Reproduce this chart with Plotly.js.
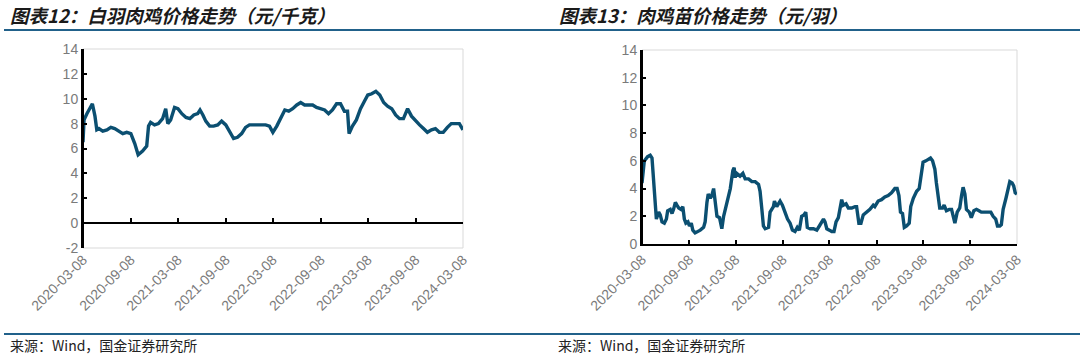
<!DOCTYPE html>
<html>
<head>
<meta charset="utf-8">
<script src="https://cdn.plot.ly/plotly-3.0.1.min.js"></script>
<style>
html,body{margin:0;padding:0;background:#fff;}
#chart{width:1086px;height:357px;}
</style>
</head>
<body>
<div id="chart"></div>
<script>
// ---- Data ----
const titleLeft = "图表12：白羽肉鸡价格走势（元/千克）";
const titleRight = "图表13：肉鸡苗价格走势（元/羽）";
const sourceText = "来源：Wind，国金证券研究所";

const tickDates = ["2020-03-08","2020-09-08","2021-03-08","2021-09-08","2022-03-08","2022-09-08","2023-03-08","2023-09-08","2024-03-08"];
const leftYTicks = [-2, 0, 2, 4, 6, 8, 10, 12, 14];
const leftYLabels = ["-2", "0", "2", "4", "6", "8", "10", "12", "14"];

// 白羽肉鸡价格（元/千克）
const broilerDates = ["2020-03-08","2020-03-12","2020-03-23","2020-04-05","2020-04-13","2020-04-23","2020-04-30","2020-05-08","2020-05-23","2020-06-08","2020-06-23","2020-07-08","2020-07-23","2020-08-08","2020-08-23","2020-09-08","2020-09-23","2020-10-06","2020-10-23","2020-11-08","2020-11-15","2020-11-23","2020-12-08","2020-12-23","2021-01-08","2021-01-20","2021-01-28","2021-02-08","2021-02-23","2021-03-08","2021-03-23","2021-04-08","2021-04-23","2021-05-08","2021-05-23","2021-06-01","2021-06-12","2021-06-23","2021-07-08","2021-07-23","2021-08-08","2021-08-23","2021-09-08","2021-09-23","2021-10-08","2021-10-23","2021-11-08","2021-11-23","2021-12-08","2021-12-23","2022-01-08","2022-01-23","2022-02-08","2022-02-23","2022-03-08","2022-03-23","2022-04-08","2022-04-23","2022-05-08","2022-05-23","2022-06-08","2022-06-23","2022-07-08","2022-07-23","2022-08-08","2022-08-23","2022-09-08","2022-09-23","2022-10-08","2022-10-23","2022-11-08","2022-11-23","2022-12-08","2022-12-20","2022-12-26","2023-01-08","2023-01-23","2023-02-08","2023-02-23","2023-03-08","2023-03-23","2023-04-08","2023-04-23","2023-05-08","2023-05-23","2023-06-08","2023-06-23","2023-07-08","2023-07-23","2023-08-08","2023-08-23","2023-09-08","2023-09-23","2023-10-08","2023-10-23","2023-11-08","2023-11-23","2023-12-08","2023-12-23","2024-01-08","2024-01-23","2024-02-08","2024-02-23","2024-03-08"];
const broilerPrice = [6.5,8.3,8.8,9.3,9.6,8.6,7.5,7.6,7.4,7.5,7.7,7.6,7.4,7.2,7.3,7.2,6.4,5.5,5.8,6.2,7.8,8.1,7.9,8.0,8.4,9.2,8.0,8.3,9.3,9.2,8.8,8.5,8.4,8.7,8.8,9.1,8.7,8.2,7.8,7.8,7.9,8.2,7.9,7.3,6.8,6.9,7.2,7.7,7.9,7.9,7.9,7.9,7.9,7.8,7.3,7.8,8.4,9.1,9.0,9.2,9.5,9.7,9.5,9.5,9.5,9.3,9.2,9.1,8.8,9.1,9.6,9.6,9.0,9.0,7.2,7.8,8.3,9.2,9.8,10.3,10.4,10.6,10.3,9.7,9.4,9.2,8.7,8.4,8.4,9.2,8.6,8.2,7.9,7.6,7.3,7.5,7.6,7.3,7.3,7.7,8.0,8.0,8.0,7.5];

// 肉鸡苗价格（元/羽）
const chickDates = ["2020-03-08","2020-03-17","2020-03-30","2020-04-09","2020-04-16","2020-04-22","2020-04-29","2020-05-03","2020-05-12","2020-05-18","2020-05-25","2020-06-03","2020-06-11","2020-06-16","2020-06-26","2020-07-03","2020-07-09","2020-07-16","2020-07-22","2020-07-29","2020-08-07","2020-08-14","2020-08-20","2020-08-26","2020-09-03","2020-09-09","2020-09-16","2020-09-22","2020-10-01","2020-10-11","2020-10-21","2020-11-03","2020-11-09","2020-11-16","2020-11-21","2020-11-29","2020-12-05","2020-12-12","2020-12-18","2020-12-25","2021-01-04","2021-01-13","2021-01-20","2021-02-02","2021-02-15","2021-02-25","2021-03-02","2021-03-06","2021-03-12","2021-03-25","2021-04-05","2021-04-14","2021-04-27","2021-05-10","2021-05-23","2021-06-05","2021-06-11","2021-06-18","2021-06-24","2021-07-01","2021-07-14","2021-07-20","2021-08-02","2021-08-06","2021-08-15","2021-08-28","2021-09-06","2021-09-16","2021-09-26","2021-10-06","2021-10-15","2021-10-25","2021-11-03","2021-11-11","2021-11-20","2021-11-29","2021-12-06","2021-12-12","2021-12-23","2022-01-05","2022-01-18","2022-01-28","2022-02-06","2022-02-13","2022-02-19","2022-02-26","2022-03-08","2022-03-17","2022-03-26","2022-04-03","2022-04-12","2022-04-18","2022-04-25","2022-05-01","2022-05-12","2022-05-21","2022-06-03","2022-06-16","2022-06-22","2022-07-01","2022-07-09","2022-07-18","2022-07-31","2022-08-13","2022-08-26","2022-09-01","2022-09-14","2022-09-27","2022-10-10","2022-10-23","2022-11-05","2022-11-18","2022-11-27","2022-12-04","2022-12-10","2022-12-18","2022-12-25","2023-01-03","2023-01-13","2023-01-19","2023-01-29","2023-02-11","2023-02-21","2023-03-02","2023-03-08","2023-03-19","2023-03-28","2023-04-06","2023-04-14","2023-04-23","2023-04-29","2023-05-06","2023-05-12","2023-05-23","2023-05-29","2023-06-07","2023-06-18","2023-06-27","2023-07-03","2023-07-10","2023-07-19","2023-07-29","2023-08-05","2023-08-11","2023-08-18","2023-08-24","2023-09-04","2023-09-12","2023-09-22","2023-10-02","2023-10-12","2023-10-21","2023-11-03","2023-11-16","2023-11-27","2023-12-06","2023-12-16","2023-12-23","2024-01-01","2024-01-07","2024-01-14","2024-01-25","2024-02-03","2024-02-09","2024-02-18","2024-02-24","2024-03-01","2024-03-08"];
const chickPrice = [4.4,6.0,6.3,6.4,6.2,4.5,2.0,1.8,2.3,2.1,1.6,1.5,1.8,2.4,2.5,2.2,2.5,3.0,2.8,2.6,2.5,2.7,1.8,1.5,1.6,1.3,1.5,1.0,0.8,0.9,1.0,1.2,1.6,3.0,3.6,3.3,3.5,4.0,2.8,2.0,1.9,1.1,2.0,3.0,4.0,5.3,5.5,4.8,5.1,4.9,5.1,4.7,4.7,4.5,4.5,4.3,3.8,2.5,1.3,1.1,1.2,2.3,2.7,3.1,2.7,3.1,2.8,2.3,1.8,1.5,1.0,0.9,1.2,1.0,2.0,2.1,2.3,1.2,1.1,1.1,1.0,1.3,1.6,1.8,1.6,1.1,1.0,0.9,0.9,1.6,1.9,2.6,3.2,2.8,2.9,2.6,2.6,2.7,2.7,1.5,1.5,2.1,2.3,2.5,2.8,2.7,3.1,3.2,3.4,3.5,3.7,4.0,4.0,3.5,2.3,2.2,1.2,1.3,1.5,2.7,3.3,3.8,4.0,5.0,5.9,6.0,6.1,6.2,6.0,5.4,4.4,3.6,2.6,2.6,2.8,2.4,2.5,2.5,2.0,1.5,2.3,2.6,3.5,4.1,3.6,2.5,2.3,1.9,2.4,2.5,2.4,2.3,2.3,2.3,2.3,2.0,1.8,1.3,1.3,1.4,2.5,3.3,4.0,4.5,4.4,4.2,3.7,3.6];

// ---- Styling ----
const W = 1086, H = 357;
const lineColor = "#0b4f71";
const labelColor = "#7a7a7a";
const frameColor = "#d9d9d9";
const ruleColor = "#21618a";
const xRange = [tickDates[0], tickDates[tickDates.length-1]];

// plot areas in pixels -> paper fractions
const L = {x0: 83, x1: 463, yTop: 49, yBot: 248};
const R = {x0: 642, x1: 1017, yTop: 50, yBot: 244};
const fx = v => v / W;
const fy = v => 1 - v / H;

const leftYRange = [-2, 14];
const leftZeroPos = fy(L.yBot) + (0 - leftYRange[0]) / (leftYRange[1] - leftYRange[0]) * (fy(L.yTop) - fy(L.yBot));

const traces = [
  // helper (empty) trace so the zero-level tick axis of the left chart is drawn
  {x: [], y: [], xaxis: "x2", yaxis: "y", type: "scatter", mode: "lines", hoverinfo: "skip", showlegend: false},
  {x: broilerDates, y: broilerPrice, xaxis: "x", yaxis: "y", type: "scatter", mode: "lines",
   line: {color: lineColor, width: 3.4}, hoverinfo: "skip", showlegend: false},
  {x: chickDates, y: chickPrice, xaxis: "x3", yaxis: "y3", type: "scatter", mode: "lines",
   line: {color: lineColor, width: 3.4}, hoverinfo: "skip", showlegend: false}
];

const tickFont = {family: "Liberation Sans, Arial, sans-serif", size: 14, color: labelColor};

const frameLines = (xr, yr, withBottom) => {
  const s = [
    {type: "line", xref: xr, yref: yr, x0: 0, x1: 1, y0: 1, y1: 1, line: {color: frameColor, width: 1}, layer: "below"},
    {type: "line", xref: xr, yref: yr, x0: 1, x1: 1, y0: 0, y1: 1, line: {color: frameColor, width: 1}, layer: "below"},
    {type: "line", xref: xr, yref: yr, x0: 0, x1: 0, y0: 0, y1: 1, line: {color: "#000", width: 2}, layer: "above"}
  ];
  if (withBottom) s.push({type: "line", xref: xr, yref: yr, x0: 0, x1: 1, y0: 0, y1: 0, line: {color: frameColor, width: 1}, layer: "below"});
  return s;
};

const axisBlack = {ticks: "inside", ticklen: 4, tickwidth: 2, tickcolor: "#000",
  showline: true, linecolor: "#000", linewidth: 2, showgrid: false, automargin: false};

const layout = {
  width: W, height: H,
  margin: {l: 0, r: 0, t: 0, b: 0},
  paper_bgcolor: "#ffffff", plot_bgcolor: "#ffffff",
  showlegend: false,
  // Left chart
  xaxis: {domain: [fx(L.x0), fx(L.x1)], anchor: "y", type: "date", range: xRange,
    tickmode: "array", tickvals: tickDates, ticktext: tickDates, tickangle: -45,
    tickfont: tickFont, ticks: "", showgrid: false, zeroline: false,
    showline: false, automargin: false},
  xaxis2: Object.assign({domain: [fx(L.x0), fx(L.x1)], anchor: "free", overlaying: "x", position: leftZeroPos,
    type: "date", range: xRange, tickmode: "array", tickvals: tickDates, showticklabels: false,
    zeroline: false}, axisBlack),
  yaxis: Object.assign({domain: [fy(L.yBot), fy(L.yTop)], anchor: "x", range: leftYRange,
    tickmode: "array", tickvals: leftYTicks, ticktext: leftYLabels,
    tickfont: tickFont, zeroline: true, zerolinecolor: "#000", zerolinewidth: 2}, axisBlack),
  // Right chart
  xaxis3: Object.assign({domain: [fx(R.x0), fx(R.x1)], anchor: "y3", type: "date", range: xRange,
    tickmode: "array", tickvals: tickDates, ticktext: tickDates, tickangle: -45,
    tickfont: tickFont, zeroline: false}, axisBlack),
  yaxis3: Object.assign({domain: [fy(R.yBot), fy(R.yTop)], anchor: "x3", range: [0, 14], dtick: 2,
    tickfont: tickFont, zeroline: false}, axisBlack),
  shapes: [
    ...frameLines("x domain", "y domain", true),
    ...frameLines("x3 domain", "y3 domain", false),
    {type: "line", xref: "paper", yref: "paper", x0: fx(4), x1: fx(1080), y0: fy(30), y1: fy(30),
     line: {color: ruleColor, width: 2}},
    {type: "line", xref: "paper", yref: "paper", x0: fx(4), x1: fx(1080), y0: fy(334), y1: fy(334),
     line: {color: ruleColor, width: 2}}
  ],
  annotations: [
    {text: "<b><i>" + titleLeft + "</i></b>", xref: "paper", yref: "paper", x: fx(8), y: fy(15),
     xanchor: "left", yanchor: "middle", showarrow: false,
     font: {family: "Noto Sans CJK SC, sans-serif", size: 18.5, color: "#1a1a1a"}},
    {text: "<b><i>" + titleRight + "</i></b>", xref: "paper", yref: "paper", x: fx(557), y: fy(15),
     xanchor: "left", yanchor: "middle", showarrow: false,
     font: {family: "Noto Sans CJK SC, sans-serif", size: 18.5, color: "#1a1a1a"}},
    {text: sourceText, xref: "paper", yref: "paper", x: fx(8), y: fy(345),
     xanchor: "left", yanchor: "middle", showarrow: false,
     font: {family: "Noto Sans CJK SC, sans-serif", size: 14, color: "#222"}},
    {text: sourceText, xref: "paper", yref: "paper", x: fx(556), y: fy(345),
     xanchor: "left", yanchor: "middle", showarrow: false,
     font: {family: "Noto Sans CJK SC, sans-serif", size: 14, color: "#222"}}
  ]
};

Plotly.newPlot("chart", traces, layout, {staticPlot: true, displayModeBar: false});
</script>
</body>
</html>
